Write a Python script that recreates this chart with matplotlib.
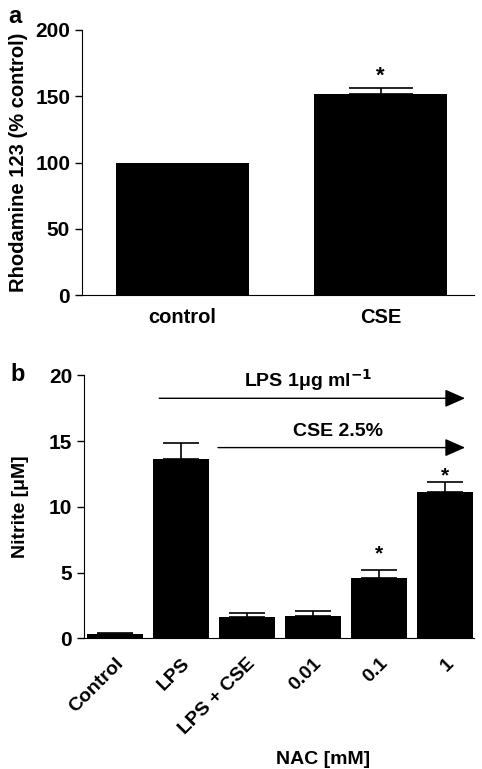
import matplotlib.pyplot as plt
import numpy as np

plt.rcParams['font.family'] = ['Liberation Sans', 'DejaVu Sans']
plt.rcParams['font.weight'] = 'bold'
plt.rcParams['axes.labelweight'] = 'bold'

# panel a
a_labels = ['control', 'CSE']
a_values = [100, 152]
a_errors = [0, 4.5]
a_ticks = [0, 50, 100, 150, 200]

# panel b
b_labels = ['Control', 'LPS', 'LPS + CSE', '0.01', '0.1', '1']
b_values = [0.33, 13.65, 1.65, 1.7, 4.58, 11.15]
b_errors = [0.1, 1.2, 0.3, 0.35, 0.6, 0.75]
b_ticks = [0, 5, 10, 15, 20]
b_stars = [4, 5]
b_star_y = [6.4, 12.35]

fig = plt.figure(figsize=(4.82, 7.69), dpi=100)

# ---- a ----
ax1 = fig.add_axes([0.170, 0.616, 0.813, 0.345])
x = np.arange(len(a_labels))
ax1.bar(x, a_values, width=0.67, color='black')
ax1.errorbar(x[1:], a_values[1:], yerr=[[0], a_errors[1:]], fmt='none',
             ecolor='black', elinewidth=1.2, capsize=23, capthick=1.2)
ax1.text(1, 165, '*', ha='center', va='center', fontsize=16)
ax1.set_xlim(-0.506, 1.47)
ax1.set_ylim(0, 200)
ax1.set_yticks(a_ticks)
ax1.set_xticks(x)
ax1.set_xticklabels(a_labels, fontsize=14.5)
ax1.tick_params(axis='x', length=0, pad=9)
ax1.tick_params(axis='y', labelsize=15, length=5, width=1)
ax1.set_ylabel('Rhodamine 123 (% control)', fontsize=14.5, labelpad=5)
for s in ['top', 'right']:
    ax1.spines[s].set_visible(False)
fig.text(0.018, 0.978, 'a', fontsize=17, va='center')

# ---- b ----
ax2 = fig.add_axes([0.174, 0.170, 0.809, 0.342])
x = np.arange(len(b_labels))
ax2.bar(x, b_values, width=0.85, color='black')
ax2.errorbar(x, b_values, yerr=[np.zeros(len(b_errors)), b_errors], fmt='none',
             ecolor='black', elinewidth=1.2, capsize=13, capthick=1.2)
for i, sy in zip(b_stars, b_star_y):
    ax2.text(x[i], sy, '*', ha='center', va='center', fontsize=15)
ax2.set_xlim(-0.47, 5.44)
ax2.set_ylim(0, 20)
ax2.set_yticks(b_ticks)
ax2.set_xticks(x)
ax2.set_xticklabels(b_labels, fontsize=14, rotation=45, ha='right', rotation_mode='anchor')
ax2.tick_params(axis='x', length=0, pad=12)
ax2.tick_params(axis='y', labelsize=15, length=5, width=1)
ax2.set_ylabel('Nitrite [\u03bcM]', fontsize=14, labelpad=14)
for s in ['top', 'right']:
    ax2.spines[s].set_visible(False)

arrow = dict(arrowstyle='-|>,head_length=1.25,head_width=0.55', color='black', lw=1)
ax2.annotate('', xy=(5.35, 18.25), xytext=(0.63, 18.25), arrowprops=arrow)
ax2.annotate('', xy=(5.35, 14.5), xytext=(1.52, 14.5), arrowprops=arrow)
ax2.text(2.93, 19.65, 'LPS 1\u03bcg ml$^{\\mathbf{-1}}$', ha='center', va='center', fontsize=14)
ax2.text(3.38, 15.7, 'CSE 2.5%', ha='center', va='center', fontsize=14)
fig.text(0.022, 0.513, 'b', fontsize=17, va='center')
fig.text(0.67, 0.012, 'NAC [mM]', fontsize=14, ha='center', va='center')

fig.savefig('out.png', dpi=100)
